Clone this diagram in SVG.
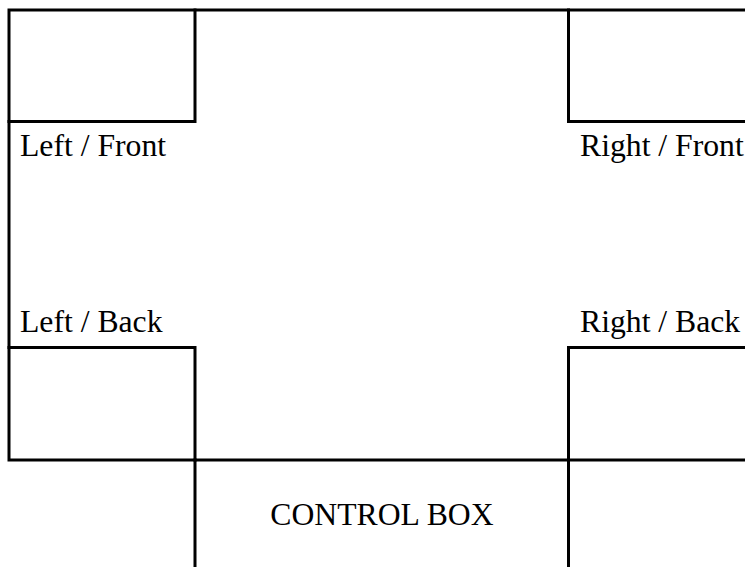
<svg xmlns="http://www.w3.org/2000/svg" width="745" height="567" viewBox="0 0 745 567">
<style>
.ln{fill:none;stroke:#000;stroke-width:3;stroke-linecap:square}
.lb{font-family:"Liberation Serif","Times New Roman",serif;font-size:31.7px;fill:#000}
</style>
<rect x="0" y="0" width="745" height="567" fill="#fff"/>
<g id="frame">
<path class="ln" d="M9 10 H746 M9 10 V460 M9 460 H746"/>
</g>
<g id="left-front">
<path class="ln" d="M9 121.5 H195 V10"/>
<text class="lb" x="20" y="155.5">Left / Front</text>
</g>
<g id="right-front">
<path class="ln" d="M568.5 10 V121.5 H746"/>
<text class="lb" x="580" y="155.5">Right / Front</text>
</g>
<g id="left-back">
<path class="ln" d="M9 347.5 H195 V460"/>
<text class="lb" x="20" y="332">Left / Back</text>
</g>
<g id="right-back">
<path class="ln" d="M746 347.5 H568.5 V460"/>
<text class="lb" x="580" y="332">Right / Back</text>
</g>
<g id="control-box">
<path class="ln" d="M195 460 V568 M568.5 460 V568"/>
<text class="lb" x="382" y="524.5" text-anchor="middle">CONTROL BOX</text>
</g>
</svg>
